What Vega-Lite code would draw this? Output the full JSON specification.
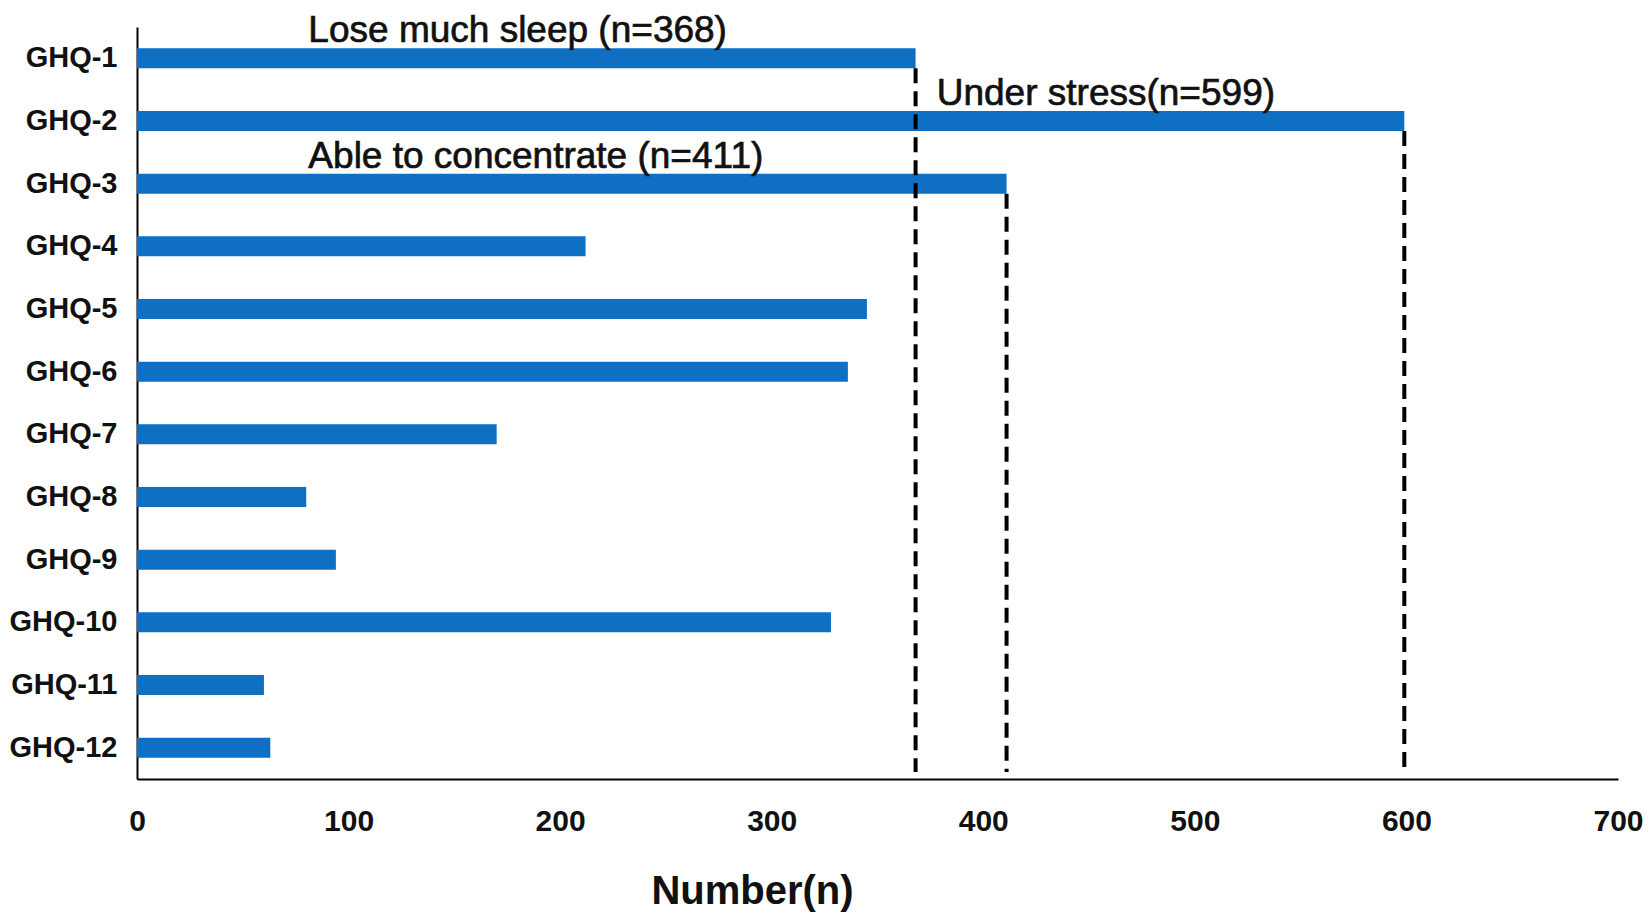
{
  "$schema": "https://vega.github.io/schema/vega-lite/v6.json",
  "autosize": {"type": "none"},
  "width": 1481,
  "height": 752,
  "padding": {"left": 137, "top": 27, "right": 32, "bottom": 139},
  "background": "white",
  "config": {
    "view": {"stroke": null},
    "font": "Liberation Sans"
  },
  "datasets": {
    "items": [
      {"item": "GHQ-1", "n": 368},
      {"item": "GHQ-2", "n": 599},
      {"item": "GHQ-3", "n": 411},
      {"item": "GHQ-4", "n": 212},
      {"item": "GHQ-5", "n": 345},
      {"item": "GHQ-6", "n": 336},
      {"item": "GHQ-7", "n": 170},
      {"item": "GHQ-8", "n": 80},
      {"item": "GHQ-9", "n": 94},
      {"item": "GHQ-10", "n": 328},
      {"item": "GHQ-11", "n": 60},
      {"item": "GHQ-12", "n": 63}
    ],
    "notes": [
      {"item": "GHQ-1", "pos": 81, "label": "Lose much sleep (n=368)"},
      {"item": "GHQ-2", "pos": 378, "label": "Under stress(n=599)"},
      {"item": "GHQ-3", "pos": 81, "label": "Able to concentrate (n=411)"}
    ],
    "marks": [
      {"item": "GHQ-1", "n": 368},
      {"item": "GHQ-2", "n": 599},
      {"item": "GHQ-3", "n": 411}
    ]
  },
  "layer": [
    {
      "data": {"name": "items"},
      "mark": {"type": "bar", "color": "#0e6fc3"},
      "encoding": {
        "y": {
          "field": "item",
          "type": "nominal",
          "sort": null,
          "scale": {"paddingInner": 0.68, "paddingOuter": 0.34},
          "axis": {
            "title": null,
            "ticks": false,
            "labelFontSize": 29,
            "labelFontWeight": "bold",
            "labelColor": "#111",
            "labelPadding": 20,
            "domainColor": "black",
            "domainWidth": 2
          }
        },
        "x": {
          "field": "n",
          "type": "quantitative",
          "scale": {"domain": [0, 700], "nice": false},
          "axis": {
            "title": "Number(n)",
            "values": [0, 100, 200, 300, 400, 500, 600, 700],
            "grid": false,
            "ticks": false,
            "labelFlush": false,
            "labelFontSize": 30,
            "labelFontWeight": "bold",
            "labelColor": "#111",
            "labelPadding": 27,
            "domainColor": "black",
            "domainWidth": 2,
            "titleFontSize": 40,
            "titleFontWeight": "bold",
            "titleColor": "#111",
            "titleX": 615,
            "titleY": 112,
            "titleBaseline": "middle"
          }
        }
      }
    },
    {
      "data": {"name": "marks"},
      "mark": {"type": "rule", "color": "black", "strokeWidth": 4, "strokeDash": [15, 8]},
      "encoding": {
        "x": {"field": "n", "type": "quantitative"},
        "y": {"field": "item", "type": "nominal", "sort": null, "bandPosition": 1},
        "y2": {"value": {"expr": "height - 7"}}
      }
    },
    {
      "data": {"name": "notes"},
      "mark": {"type": "text", "align": "left", "baseline": "alphabetic", "dy": -6, "fontSize": 37, "color": "#111", "stroke": "#111", "strokeWidth": 0.7},
      "encoding": {
        "x": {"field": "pos", "type": "quantitative"},
        "y": {"field": "item", "type": "nominal", "sort": null, "bandPosition": 0},
        "text": {"field": "label"}
      }
    }
  ]
}
